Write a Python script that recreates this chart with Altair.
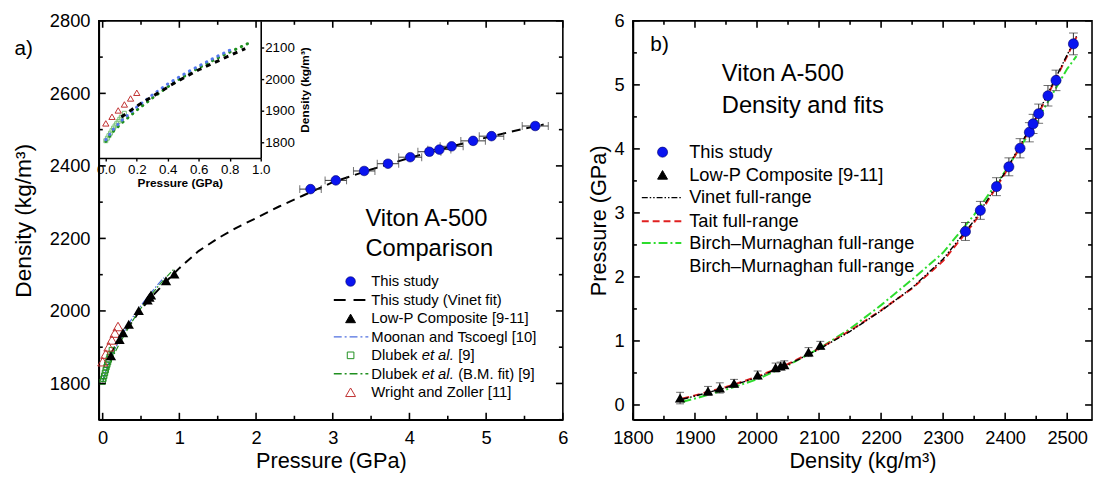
import altair as alt
import pandas as pd

# ---------------- data ----------------
# This study (Viton A-500)
study_P = [2.71, 3.04, 3.41, 3.72, 4.01, 4.26, 4.39, 4.55, 4.83, 5.07, 5.64]
study_rho = [2336, 2360, 2386, 2406, 2424, 2439, 2445, 2454, 2469, 2482, 2510]
study_err = [0.14, 0.14, 0.14, 0.14, 0.15, 0.15, 0.15, 0.15, 0.16, 0.16, 0.17]

# Low-P composite [9-11]
lowp_P = [0.108, 0.22, 0.266, 0.34, 0.47, 0.585, 0.61, 0.63, 0.826, 0.934]
lowp_rho = [1876, 1921, 1940, 1963, 2001, 2030, 2038, 2044, 2083, 2102]
lowp_err = [0.09, 0.07, 0.08, 0.06, 0.06, 0.07, 0.06, 0.06, 0.07, 0.06]

# This study (Vinet fit), panel a
vinet_P = [0.1, 0.2, 0.3, 0.45, 0.6, 0.8, 0.9, 1.0, 1.25, 1.5, 1.75, 2.0, 2.3, 2.6,
           3.0, 3.5, 4.0, 4.5, 5.0, 5.5, 5.75]
vinet_rho = [1880, 1915, 1945, 1990, 2030, 2075, 2097, 2118, 2165, 2200, 2230, 2256,
             2288, 2317, 2355, 2390, 2422, 2451, 2478, 2503, 2514]

# Moonan and Tscoegl [10]
moon_P = [0.0, 0.05, 0.1, 0.2, 0.3, 0.4, 0.5, 0.6, 0.7, 0.8]
moon_rho = [1808, 1842, 1868, 1912, 1950, 1985, 2015, 2042, 2068, 2092]

# Dlubek et al. (B.M. fit) [9]
bm_P = [0.0, 0.05, 0.1, 0.2, 0.3, 0.4, 0.5, 0.6, 0.7, 0.8, 0.93]
bm_rho = [1803, 1836, 1860, 1902, 1940, 1976, 2008, 2036, 2062, 2086, 2116]

# Dlubek et al. [9]
dl_P = [0.0, 0.01, 0.02, 0.03, 0.04, 0.05, 0.06, 0.07, 0.08, 0.09, 0.10, 0.12]
dl_rho = [1805, 1813, 1821, 1829, 1837, 1845, 1852, 1859, 1866, 1873, 1880, 1892]

# Wright and Zoller [11]
wz_P = [0.0, 0.04, 0.08, 0.12, 0.16, 0.2]
wz_rho = [1860, 1881, 1901, 1920, 1939, 1957]

# Panel b full-range fits (pressure vs density)
fit_rho = [1880, 1900, 1950, 2000, 2050, 2100, 2150, 2200, 2250, 2300, 2350, 2400,
           2450, 2500, 2515]
tait_P = [0.10, 0.15, 0.28, 0.44, 0.64, 0.88, 1.16, 1.48, 1.82, 2.25, 2.85, 3.62,
          4.48, 5.45, 5.75]
vinetb_P = [0.09, 0.14, 0.27, 0.43, 0.63, 0.87, 1.15, 1.47, 1.83, 2.28, 2.88, 3.64,
            4.50, 5.47, 5.76]
bmb_P = [0.05, 0.10, 0.24, 0.40, 0.62, 0.88, 1.19, 1.56, 1.96, 2.38, 2.97, 3.65,
         4.42, 5.25, 5.45]

# tick values
a_xmajor = [0, 1, 2, 3, 4, 5, 6]
a_xminor = [0.5, 1.5, 2.5, 3.5, 4.5, 5.5]
a_ymajor = [1800, 2000, 2200, 2400, 2600, 2800]
a_yminor = [1700, 1900, 2100, 2300, 2500, 2700]
in_xticks = [0.0, 0.2, 0.4, 0.6, 0.8, 1.0]
in_yticks = [1800, 1900, 2000, 2100]
b_xmajor = [1800, 1900, 2000, 2100, 2200, 2300, 2400, 2500]
b_xminor = [1850, 1950, 2050, 2150, 2250, 2350, 2450]
b_ymajor = [0, 1, 2, 3, 4, 5, 6]
b_yminor = [0.5, 1.5, 2.5, 3.5, 4.5, 5.5]

# ---------------- tables ----------------
study = pd.DataFrame({"P": study_P, "rho": study_rho, "err": study_err})
lowp = pd.DataFrame({"P": lowp_P, "rho": lowp_rho, "err": lowp_err})
vinet = pd.DataFrame({"P": vinet_P, "rho": vinet_rho})
moon = pd.DataFrame({"P": moon_P, "rho": moon_rho})
bm = pd.DataFrame({"P": bm_P, "rho": bm_rho})
dl = pd.DataFrame({"P": dl_P, "rho": dl_rho})
wz = pd.DataFrame({"P": wz_P, "rho": wz_rho})
fits = pd.DataFrame({"rho": fit_rho, "tait": tait_P, "vinet": vinetb_P, "bm": bmb_P})
dummy = pd.DataFrame({"k": [0]})

FONT = "Liberation Sans"
BLUE = "#0a14f0"
GREEN_A = "#1f8f1f"
RED_A = "#c03030"

W_A, H_A = 470, 404
W_B, H_B = 465, 404


def txt(s, x, y, size=15, align="left", style="normal", weight="normal"):
    return alt.Chart(dummy).mark_text(
        text=s, align=align, baseline="middle", fontSize=size, font=FONT,
        fontStyle=style, fontWeight=weight, color="black"
    ).encode(x=alt.value(x), y=alt.value(y))


def seg(x1, x2, y, color, dash, width):
    return alt.Chart(dummy).mark_rule(color=color, strokeDash=dash, strokeWidth=width).encode(
        x=alt.value(x1), x2=alt.value(x2), y=alt.value(y))


def sym(x, y, shape, size, filled, color, stroke=None, sw=1.0):
    kw = dict(shape=shape, size=size, filled=filled, opacity=1, strokeWidth=sw)
    if filled:
        kw["fill"] = color
        kw["stroke"] = stroke if stroke else color
    else:
        kw["stroke"] = color
        kw["fill"] = "transparent"
    return alt.Chart(dummy).mark_point(**kw).encode(x=alt.value(x), y=alt.value(y))


def frame_ticks(xf, yf, xenc, yenc, xmaj, xmin, ymaj, ymin, W, H):
    """Inward tick marks on all four frame sides, at the axis tick values."""
    out = []
    for vals, ln in ((xmaj, 7), (xmin, 4)):
        df = pd.DataFrame({xf: vals})
        for yc in (H - ln / 2, ln / 2):
            out.append(alt.Chart(df).mark_tick(orient="vertical", color="black", size=ln,
                                               thickness=1.6, opacity=1).encode(
                x=xenc, y=alt.value(yc)))
    for vals, ln in ((ymaj, 7), (ymin, 4)):
        df = pd.DataFrame({yf: vals})
        for xc in (ln / 2, W - ln / 2):
            out.append(alt.Chart(df).mark_tick(orient="horizontal", color="black", size=ln,
                                               thickness=1.6, opacity=1).encode(
                y=yenc, x=alt.value(xc)))
    return out


AX = dict(labelFlush=False, labelOverlap=False, labelFontSize=18.5, ticks=False,
          labelPadding=9)

# ---------------- panel a ----------------
a_xdom, a_ydom = [-0.05, 6], [1700, 2800]
ax_P = alt.X("P:Q", scale=alt.Scale(domain=a_xdom, nice=False, zero=False),
             axis=alt.Axis(values=a_xmajor, title="Pressure (GPa)", format="d",
                           titleFontSize=22, titlePadding=4, **AX))
ay_rho = alt.Y("rho:Q", scale=alt.Scale(domain=a_ydom, nice=False, zero=False),
               axis=alt.Axis(values=a_ymajor, title="Density (kg/m³)", format="d",
                             titleFontSize=23, titlePadding=14, **AX))

a_vinet = alt.Chart(vinet).mark_line(color="black", strokeDash=[9, 6], strokeWidth=2).encode(
    x=ax_P, y=ay_rho, order="P:Q")
a_moon = alt.Chart(moon).mark_line(color="#4f6fdf", strokeDash=[7, 2, 1.5, 2],
                                   strokeWidth=1.2).encode(x=ax_P, y=ay_rho, order="P:Q")
a_bm = alt.Chart(bm).mark_line(color=GREEN_A, strokeDash=[6, 2, 1.5, 2],
                               strokeWidth=1.2).encode(x=ax_P, y=ay_rho, order="P:Q")
a_dl = alt.Chart(dl).mark_point(shape="square", filled=False, color=GREEN_A, size=30,
                                strokeWidth=1, opacity=1).encode(x=ax_P, y=ay_rho)
a_wz = alt.Chart(wz).mark_point(shape="triangle-up", filled=False, color=RED_A, size=100,
                                strokeWidth=1, opacity=1).encode(x=ax_P, y=ay_rho)
a_lowp = alt.Chart(lowp).mark_point(shape="triangle-up", filled=True, color="black",
                                    size=110, opacity=1).encode(x=ax_P, y=ay_rho)
study_base = alt.Chart(study).transform_calculate(lo="datum.P - datum.err",
                                                  hi="datum.P + datum.err")
a_err = study_base.mark_rule(color="#333333", strokeWidth=1).encode(
    x=alt.X("lo:Q"), x2="hi:Q", y=ay_rho)
a_cap_lo = study_base.mark_tick(orient="vertical", color="#333333", size=8,
                                thickness=1).encode(x=alt.X("lo:Q"), y=ay_rho)
a_cap_hi = study_base.mark_tick(orient="vertical", color="#333333", size=8,
                                thickness=1).encode(x=alt.X("hi:Q"), y=ay_rho)
a_study = study_base.mark_point(shape="circle", filled=True, fill=BLUE, stroke="#00006a",
                                strokeWidth=0.6, size=95, opacity=1).encode(
    x=ax_P, y=ay_rho)

# panel a texts & legend (pixel positions relative to the plot area)
ly0, dly = 264, 18.7
sx, tx = 255, 276
a_texts = [
    txt("a)", -76, 29, size=21, align="center"),
    txt("Viton A-500", 270, 201, size=24),
    txt("Comparison", 270, 231, size=24),
    sym(sx, ly0, "circle", 95, True, BLUE, "#00006a", 0.6),
    txt("This study", tx, ly0),
    seg(238, 273, ly0 + dly, "black", [12, 8], 2),
    txt("This study (Vinet fit)", tx, ly0 + dly),
    sym(sx, ly0 + 2 * dly, "triangle-up", 100, True, "black"),
    txt("Low-P Composite [9-11]", tx, ly0 + 2 * dly),
    seg(238, 273, ly0 + 3 * dly, "#4f6fdf", [8, 3, 2, 3], 1.5),
    txt("Moonan and Tscoegl [10]", tx, ly0 + 3 * dly),
    sym(sx, ly0 + 4 * dly, "square", 45, False, GREEN_A),
    txt("Dlubek", tx, ly0 + 4 * dly),
    txt("et al.", tx + 51, ly0 + 4 * dly, style="italic"),
    txt("[9]", tx + 88, ly0 + 4 * dly),
    seg(238, 273, ly0 + 5 * dly, GREEN_A, [8, 3, 2, 3], 1.5),
    txt("Dlubek", tx, ly0 + 5 * dly),
    txt("et al.", tx + 51, ly0 + 5 * dly, style="italic"),
    txt("(B.M. fit) [9]", tx + 88, ly0 + 5 * dly),
    sym(sx, ly0 + 6 * dly, "triangle-up", 100, False, RED_A),
    txt("Wright and Zoller [11]", tx, ly0 + 6 * dly),
]

a_frame = frame_ticks("P", "rho", ax_P, ay_rho, a_xmajor, a_xminor, a_ymajor, a_yminor,
                      W_A, H_A)

main_a = alt.layer(a_vinet, a_moon, a_bm, a_dl, a_wz, a_lowp, a_err, a_cap_lo, a_cap_hi,
                   a_study, *a_frame, *a_texts)

# inset
ix = alt.X("P:Q", scale=alt.Scale(domain=[-0.045, 1.0], range=[0, 164], nice=False,
                                  zero=False),
           axis=alt.Axis(orient="bottom", offset=-265, values=in_xticks, format=".1f",
                         title="Pressure (GPa)", titleFontSize=12, titleFontWeight="bold",
                         labelFontSize=13.5, tickSize=3, labelPadding=2, titlePadding=1,
                         labelFlush=False, labelOverlap=False))
iy = alt.Y("rho:Q", scale=alt.Scale(domain=[1750, 2185], range=[139, 0], nice=False,
                                    zero=False),
           axis=alt.Axis(orient="right", offset=-306, values=in_yticks, format="d",
                         title="Density (kg/m³)", titleFontSize=12, titleFontWeight="bold",
                         titleAngle=270, titleBaseline="top", labelFontSize=13.5,
                         tickSize=3, labelPadding=1, titlePadding=5,
                         labelFlush=False, labelOverlap=False))
in_bm = alt.Chart(bm).mark_line(color=GREEN_A, strokeDash=[0.5, 6], strokeCap="round",
                                strokeWidth=3).encode(x=ix, y=iy, order="P:Q")
in_moon = alt.Chart(moon).mark_line(color="#5577ee", strokeDash=[0.5, 6], strokeCap="round",
                                    strokeWidth=3).encode(x=ix, y=iy, order="P:Q")
in_vinet = alt.Chart(vinet).transform_filter("datum.P <= 0.95").mark_line(
    color="black", strokeDash=[5, 5], strokeWidth=3).encode(x=ix, y=iy, order="P:Q")
in_dl = alt.Chart(dl).mark_point(shape="square", filled=False, color="#7cc47c", size=16,
                                 strokeWidth=1, opacity=1).encode(x=ix, y=iy)
in_wz = alt.Chart(wz).mark_point(shape="triangle-up", filled=False, color=RED_A, size=40,
                                 strokeWidth=1, opacity=1).encode(x=ix, y=iy)
inset = alt.layer(in_dl, in_bm, in_moon, in_vinet, in_wz)

panel_a = alt.layer(main_a, inset).resolve_scale(
    x="independent", y="independent").properties(width=W_A, height=H_A)

# ---------------- panel b ----------------
b_xdom, b_ydom = [1800, 2540], [-0.23, 6]
bx = alt.X("rho:Q", scale=alt.Scale(domain=b_xdom, nice=False, zero=False),
           axis=alt.Axis(values=b_xmajor, title="Density (kg/m³)", format="d",
                         titleFontSize=22, titlePadding=4, **AX))
b_yaxis = alt.Axis(values=b_ymajor, title="Pressure (GPa)", format="d",
                   titleFontSize=22, titlePadding=3, **AX)
b_yscale = alt.Scale(domain=b_ydom, nice=False, zero=False)

b_bm = alt.Chart(fits).mark_line(color="#2ddc2d", strokeDash=[9, 3, 2, 3],
                                 strokeWidth=2).encode(
    x=bx, y=alt.Y("bm:Q", scale=b_yscale, axis=b_yaxis), order="rho:Q")
b_tait = alt.Chart(fits).mark_line(color="#e02020", strokeDash=[7, 4],
                                   strokeWidth=2).encode(
    x=bx, y=alt.Y("tait:Q", scale=b_yscale, axis=b_yaxis), order="rho:Q")
b_vinet = alt.Chart(fits).mark_line(color="black", strokeDash=[6, 2, 1.5, 2, 1.5, 2],
                                    strokeWidth=1.4).encode(
    x=bx, y=alt.Y("vinet:Q", scale=b_yscale, axis=b_yaxis), order="rho:Q")

by = alt.Y("P:Q", scale=b_yscale, axis=b_yaxis)
lowp_base = alt.Chart(lowp).transform_calculate(lo="datum.P - datum.err",
                                                hi="datum.P + datum.err")
b_lerr = lowp_base.mark_rule(color="#333333", strokeWidth=1).encode(
    x=bx, y=alt.Y("lo:Q", scale=b_yscale, axis=b_yaxis), y2="hi:Q")
b_lcap1 = lowp_base.mark_tick(orient="horizontal", color="#333333", size=8,
                              thickness=1).encode(
    x=bx, y=alt.Y("lo:Q", scale=b_yscale, axis=b_yaxis))
b_lcap2 = lowp_base.mark_tick(orient="horizontal", color="#333333", size=8,
                              thickness=1).encode(
    x=bx, y=alt.Y("hi:Q", scale=b_yscale, axis=b_yaxis))
b_lowp = alt.Chart(lowp).mark_point(shape="triangle-up", filled=True, color="black",
                                    size=110, opacity=1).encode(x=bx, y=by)

b_serr = study_base.mark_rule(color="#333333", strokeWidth=1).encode(
    x=bx, y=alt.Y("lo:Q", scale=b_yscale, axis=b_yaxis), y2="hi:Q")
b_scap1 = study_base.mark_tick(orient="horizontal", color="#333333", size=9,
                               thickness=1).encode(
    x=bx, y=alt.Y("lo:Q", scale=b_yscale, axis=b_yaxis))
b_scap2 = study_base.mark_tick(orient="horizontal", color="#333333", size=9,
                               thickness=1).encode(
    x=bx, y=alt.Y("hi:Q", scale=b_yscale, axis=b_yaxis))
b_study = study_base.mark_point(shape="circle", filled=True, fill=BLUE, stroke="#00006a",
                                strokeWidth=0.6, size=105, opacity=1).encode(x=bx, y=by)

bl = [133, 156, 179, 203, 225, 248]
bsx, btx = 30, 57
b_texts = [
    txt("b)", 27, 25, size=21, align="center"),
    txt("Viton A-500", 90, 54, size=24),
    txt("Density and fits", 90, 86, size=24),
    sym(bsx, bl[0], "circle", 105, True, BLUE, "#00006a", 0.6),
    txt("This study", btx, bl[0], size=18.5),
    sym(bsx, bl[1], "triangle-up", 100, True, "black"),
    txt("Low-P Composite [9-11]", btx, bl[1], size=18.5),
    seg(9, 49, bl[2], "black", [6, 2, 1.5, 2, 1.5, 2], 1.4),
    txt("Vinet full-range", btx, bl[2], size=18.5),
    seg(9, 52, bl[3], "#e02020", [7, 4], 2),
    txt("Tait full-range", btx, bl[3], size=18.5),
    seg(9, 49, bl[4], "#2ddc2d", [9, 3, 2, 3], 2),
    txt("Birch\u2013Murnaghan full-range", btx, bl[4], size=18.5),
    txt("Birch\u2013Murnaghan full-range", btx, bl[5], size=18.5),
]

b_frame = frame_ticks("rho", "P", bx, by, b_xmajor, b_xminor, b_ymajor, b_yminor, W_B, H_B)

panel_b = alt.layer(b_bm, b_tait, b_vinet, b_lerr, b_lcap1, b_lcap2, b_lowp,
                    b_serr, b_scap1, b_scap2, b_study, *b_frame, *b_texts).properties(
    width=W_B, height=H_B)

chart = alt.hconcat(panel_a, panel_b, spacing=18).properties(
    padding={"left": 4, "top": 0, "right": 0, "bottom": 0},
    background="white",
).configure_view(stroke="black", strokeWidth=1.6).configure_axis(
    grid=False, domainColor="black", domainWidth=1.6, tickColor="black", tickWidth=1.4,
    labelColor="black", titleColor="black", labelFont=FONT, titleFont=FONT,
    titleFontWeight="normal"
)

chart.save("out.html", embed_options={"renderer": "svg", "actions": False})
